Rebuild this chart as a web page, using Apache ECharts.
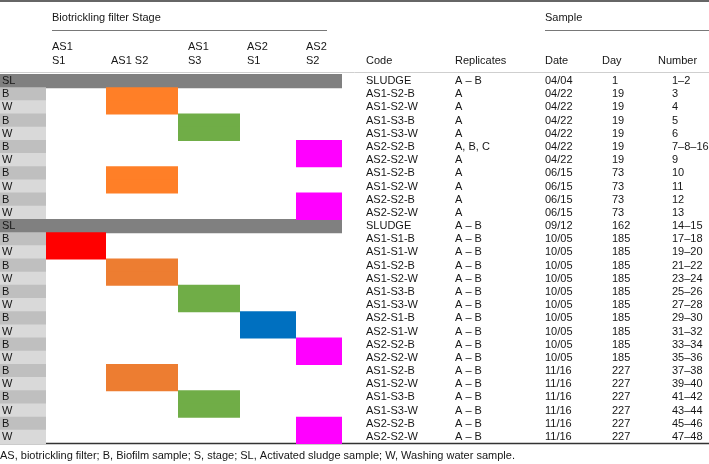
<!DOCTYPE html>
<html>
<head>
<meta charset="utf-8">
<script src="https://cdn.jsdelivr.net/npm/echarts@6/dist/echarts.min.js"></script>
<style>html,body{margin:0;padding:0;background:#fff}#c{width:709px;height:464px}</style>
</head>
<body>
<div id="c"></div>
<script>
// ---- data ----
const rowTypes = ['SL','B','W','B','W','B','W','B','W','B','W','SL','B','W','B','W','B','W','B','W','B','W','B','W','B','W','B','W'];
const stageNames = ['AS1 S1','AS1 S2','AS1 S3','AS2 S1','AS2 S2'];
const rowStages = [null,'AS1 S2','AS1 S2','AS1 S3','AS1 S3','AS2 S2','AS2 S2','AS1 S2','AS1 S2','AS2 S2','AS2 S2',
  null,'AS1 S1','AS1 S1','AS1 S2','AS1 S2','AS1 S3','AS1 S3','AS2 S1','AS2 S1','AS2 S2','AS2 S2','AS1 S2','AS1 S2','AS1 S3','AS1 S3','AS2 S2','AS2 S2'];
const codes = ['SLUDGE','AS1-S2-B','AS1-S2-W','AS1-S3-B','AS1-S3-W','AS2-S2-B','AS2-S2-W','AS1-S2-B','AS1-S2-W','AS2-S2-B','AS2-S2-W',
  'SLUDGE','AS1-S1-B','AS1-S1-W','AS1-S2-B','AS1-S2-W','AS1-S3-B','AS1-S3-W','AS2-S1-B','AS2-S1-W','AS2-S2-B','AS2-S2-W','AS1-S2-B','AS1-S2-W','AS1-S3-B','AS1-S3-W','AS2-S2-B','AS2-S2-W'];
const replicates = ['A – B','A','A','A','A','A, B, C','A','A','A','A','A',
  'A – B','A – B','A – B','A – B','A – B','A – B','A – B','A – B','A – B','A – B','A – B','A – B','A – B','A – B','A – B','A – B','A – B'];
const dates = ['04/04','04/22','04/22','04/22','04/22','04/22','04/22','06/15','06/15','06/15','06/15',
  '09/12','10/05','10/05','10/05','10/05','10/05','10/05','10/05','10/05','10/05','10/05','11/16','11/16','11/16','11/16','11/16','11/16'];
const days = ['1','19','19','19','19','19','19','73','73','73','73',
  '162','185','185','185','185','185','185','185','185','185','185','227','227','227','227','227','227'];
const numbers = ['1–2','3','4','5','6','7–8–16','9','10','11','12','13',
  '14–15','17–18','19–20','21–22','23–24','25–26','27–28','29–30','31–32','33–34','35–36','37–38','39–40','41–42','43–44','45–46','47–48'];
const stageHeaders = [['AS1','S1'],['','AS1 S2'],['AS1','S3'],['AS2','S1'],['AS2','S2']];
const footnote = 'AS, biotrickling filter; B, Biofilm sample; S, stage; SL, Activated sludge sample; W, Washing water sample.';

// ---- layout / style ----
const FONT = '11px "Liberation Sans", Arial, sans-serif';
const TXT = '#161616';
const stageBounds = { 'AS1 S1':[46,106], 'AS1 S2':[106,178], 'AS1 S3':[178,240], 'AS2 S1':[240,296], 'AS2 S2':[296,342] };
const stageHeadX = [52,111,188,247,306];
const stageColor = (s, i) => ({'AS1 S1':'#FF0000','AS1 S2': i < 11 ? '#FF7F27' : '#ED7D31','AS1 S3':'#70AD47','AS2 S1':'#0070C0','AS2 S2':'#FF00FF'})[s];
const rowFill = { SL:'#808080', B:'#BFBFBF', W:'#D9D9D9' };
const textCols = [
  { x:366, arr:codes }, { x:455, arr:replicates }, { x:545, arr:dates }, { x:612, arr:days }, { x:672, arr:numbers }
];
const rowIdx = rowTypes.map((_, i) => String(i));

function textSeries(col) {
  return {
    type:'custom', silent:true, z:5,
    data: col.arr.map((v, i) => [col.x, i]),
    renderItem: (params, api) => {
      const p = api.coord([api.value(0), api.value(1)]);
      return { type:'text', style:{ text: col.arr[params.dataIndex], x:p[0], y:p[1]+0.5, fill:TXT, font:FONT, align:'left', verticalAlign:'middle' } };
    }
  };
}

const chart = echarts.init(document.getElementById('c'), null, { renderer:'canvas' });
const graphic = [
  { type:'line', shape:{x1:0,y1:1,x2:709,y2:1}, style:{stroke:'#333', lineWidth:1.5} },
  { type:'text', style:{ text:'Biotrickling filter Stage', x:52, y:18, fill:TXT, font:FONT, verticalAlign:'middle' } },
  { type:'line', shape:{x1:52,y1:30.5,x2:327,y2:30.5}, style:{stroke:'#555', lineWidth:0.8} },
  { type:'text', style:{ text:'Sample', x:545, y:18, fill:TXT, font:FONT, verticalAlign:'middle' } },
  { type:'line', shape:{x1:545,y1:30.5,x2:709,y2:30.5}, style:{stroke:'#555', lineWidth:0.8} },
  { type:'line', shape:{x1:0,y1:72.5,x2:709,y2:72.5}, style:{stroke:'#cfcfcf', lineWidth:1} },
  { type:'line', shape:{x1:0,y1:443.5,x2:709,y2:443.5}, style:{stroke:'#333', lineWidth:1.3} },
  { type:'text', style:{ text:footnote, x:0, y:456, fill:TXT, font:FONT, verticalAlign:'middle' } }
];
stageHeaders.forEach((h, k) => {
  if (h[0]) graphic.push({ type:'text', style:{ text:h[0], x:stageHeadX[k], y:47, fill:TXT, font:FONT, verticalAlign:'middle' } });
  graphic.push({ type:'text', style:{ text:h[1], x:stageHeadX[k], y:60.5, fill:TXT, font:FONT, verticalAlign:'middle' } });
});
[['Code',366],['Replicates',455],['Date',545],['Day',602],['Number',658]].forEach(([t,x]) => {
  graphic.push({ type:'text', style:{ text:t, x:x, y:60.5, fill:TXT, font:FONT, verticalAlign:'middle' } });
});

chart.setOption({
  animation:false,
  grid:{ left:0, right:0, top:74, height:369 },
  xAxis:{ type:'value', min:0, max:709, show:false },
  yAxis:{ type:'category', data:rowIdx, inverse:true, show:false },
  graphic: graphic,
  series:[
    {
      type:'custom', silent:true, z:2,
      data: rowTypes.map((t, i) => [0, i]),
      renderItem: (params, api) => {
        const i = params.dataIndex, t = rowTypes[i];
        const c = api.coord([0, api.value(1)]);
        const h = api.size([0, 1])[1];
        const e = api.coord([t === 'SL' ? 342 : 46, api.value(1)]);
        return { type:'group', children:[
          { type:'rect', shape:{ x:c[0], y:c[1]-h/2, width:e[0]-c[0], height:h+1 }, style:{ fill: rowFill[t] } },
          { type:'text', z2:10, style:{ text:t, x:c[0]+2, y:c[1]+0.5, fill:TXT, font:FONT, align:'left', verticalAlign:'middle' } }
        ]};
      }
    },
    {
      type:'custom', silent:true, z:3,
      data: rowStages.map((s, i) => [s ? stageNames.indexOf(s) : -1, i]).filter(d => d[0] >= 0),
      renderItem: (params, api) => {
        const s = stageNames[api.value(0)], row = api.value(1);
        const b = stageBounds[s];
        const a = api.coord([b[0], row]), z = api.coord([b[1], row]);
        const h = api.size([0, 1])[1];
        return { type:'rect', shape:{ x:a[0], y:a[1]-h/2, width:z[0]-a[0], height:h+1 }, style:{ fill: stageColor(s, row) } };
      }
    }
  ].concat(textCols.map(textSeries))
});
</script>
</body>
</html>
